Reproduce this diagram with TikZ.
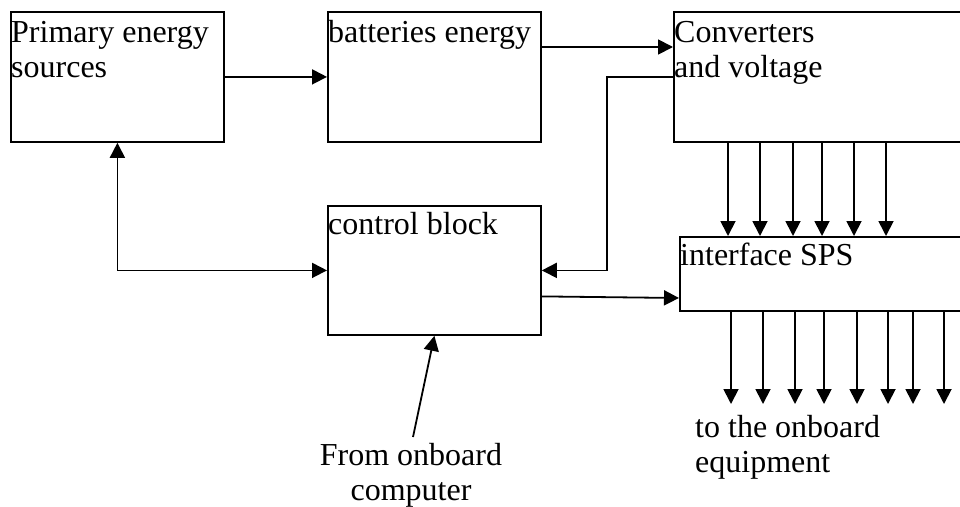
\documentclass[tikz,border=0pt]{standalone}
\usepackage{fontspec}
\setmainfont{Liberation Serif}
\usetikzlibrary{arrows.meta}
\newcommand{\twol}[2]{\vtop{\hbox{#1}\hbox{#2}}}
\newcommand{\twoc}[2]{\vtop{\hbox to 0pt{\hss #1\hss}\hbox to 0pt{\hss #2\hss}}}
\begin{document}
\begin{tikzpicture}[x=1pt,y=-1pt,
  box/.style={draw,line width=1.8pt,rectangle,inner sep=0pt,anchor=north west},
  lbl/.style={inner sep=0pt,anchor=base west,font=\fontsize{32}{35}\selectfont},
  clbl/.style={inner sep=0pt,anchor=base,font=\fontsize{32}{35}\selectfont},
  arr/.style={line width=1.8pt,-{Triangle[length=15pt,width=15pt]}},
  darr/.style={line width=1.8pt,{Triangle[length=15pt,width=15pt]}-{Triangle[length=15pt,width=15pt]}}]
\useasboundingbox (0,0) rectangle (960,506);
\clip (0,0) rectangle (960,506);
% boxes
\node[box,minimum width=213pt,minimum height=130pt] (prim) at (10,11) {};
\node[box,minimum width=213pt,minimum height=130pt] (batt) at (327,11) {};
\node[box,minimum width=330pt,minimum height=130pt] (conv) at (673,11) {};
\node[box,minimum width=213pt,minimum height=129pt] (ctrl) at (327,205) {};
\node[box,minimum width=330pt,minimum height=74pt] (iface) at (679,236) {};
% labels
\node[lbl] (tprim) at (11,42) {\twol{Primary energy}{sources}};
\node[lbl] (tbatt) at (328,42) {batteries energy};
\node[lbl] (tconv) at (674,42) {\twol{Converters}{and voltage}};
\node[lbl] (tctrl) at (328,234) {control block};
\node[lbl] (tiface) at (680,265) {interface SPS};
\node[clbl] (tfrom) at (411,465) {\twoc{From onboard}{computer}};
\node[lbl] (tto) at (695,437) {\twol{to the onboard}{equipment}};
% connectors
\draw[arr] (prim.east) -- (batt.west);
\draw[arr] ([yshift=-36pt]batt.north east) -- ([yshift=-36pt]conv.north west);
\draw[arr] ([yshift=-66pt]conv.north west) -- ++(-66,0) |- (ctrl.east);
\draw[darr] (prim.south) |- (ctrl.west);
\draw[arr] ([yshift=-26pt]ctrl.east) -- ([yshift=-62pt]iface.north west);
\coordinate (src) at (413,437);
\draw[arr] (src) -- (ctrl.south);
\foreach \x in {728,760,793,822,854,886}
  \draw[arr] (conv.south -| \x,0) -- (iface.north -| \x,0);
\foreach \x in {731,763,795,824,857,888,913,944}
  \draw[arr] (iface.south -| \x,0) -- (\x,404);
\end{tikzpicture}
\end{document}
